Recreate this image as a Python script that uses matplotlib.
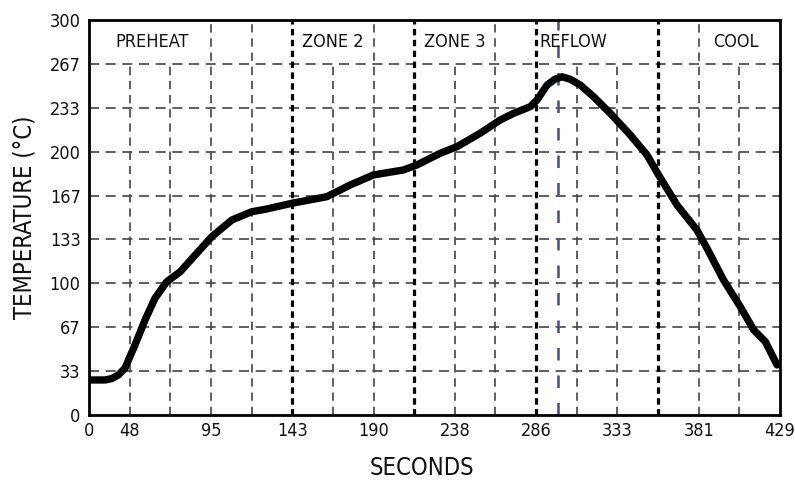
import matplotlib
matplotlib.use('Agg')
import matplotlib.pyplot as plt
from matplotlib import font_manager

# ---- data ----
time_s = [23.8, 33.2, 37.3, 41.0, 44.9, 50.8, 56.7, 62.5, 69.4, 77.3, 86.1, 95.8, 107.6,
          119.3, 127.1, 142.8, 163.3, 177.0, 190.6, 208.2, 216.1, 229.8, 239.6,
          253.2, 265.0, 272.8, 282.6, 286.5, 292.4, 297.0, 301.2, 306.0, 311.9, 319.7, 329.5,
          341.2, 351.0, 357.8, 368.6, 380.3, 386.2, 395.9, 405.7, 413.6, 420.4, 427.3]
temp_c = [26.6, 26.6, 27.7, 30.4, 35.5, 53.2, 72.2, 88.6, 101.2, 108.8, 121.5, 135.4, 148.1,
          154.4, 156.2, 160.8, 165.8, 174.7, 182.3, 186.1, 189.9, 198.8, 203.8,
          214.0, 224.1, 229.1, 234.2, 239.2, 250.6, 255.0, 256.9, 255.0, 250.6, 241.7, 229.1,
          212.7, 197.5, 182.3, 159.5, 140.5, 126.6, 102.5, 82.3, 64.6, 55.7, 38.0]

x_tick_labels = ['0', '48', '95', '143', '190', '238', '286', '333', '381', '429']
y_tick_labels = ['0', '33', '67', '100', '133', '167', '200', '233', '267', '300']

zone_names = ['PREHEAT', 'ZONE 2', 'ZONE 3', 'REFLOW', 'COOL']
zone_label_x = [61, 167, 238, 308, 403]
zone_bounds = [143, 214.5, 286, 357.5]
peak_line_x = 299

X_MAX = 429.0
X_MIN = X_MAX / 18
Y_MAX = 300.0

fp_small = font_manager.FontProperties(family='DejaVu Sans', stretch='condensed', size=13)
fp_big = font_manager.FontProperties(family='DejaVu Sans', stretch='condensed', size=17)

fig = plt.figure(figsize=(7.95, 4.82), dpi=100)
ax = fig.add_axes([89 / 795, 1 - 415 / 482, 691 / 795, 395 / 482])
ax.set_xlim(X_MIN, X_MAX)
ax.set_ylim(0, Y_MAX)

grid_col = '#444444'
for k in range(1, 9):
    ax.axhline(Y_MAX * k / 9, color=grid_col, lw=1.2, dashes=(6, 4), zorder=1)

short_lines = {1, 2, 6, 9, 12, 13, 16}
bold_lines = {5, 8, 11, 14}
for h in range(1, 17):
    xv = X_MAX * (h + 1) / 18
    if h in bold_lines:
        continue
    top = 8 / 9 if h in short_lines else 1.0
    ax.axvline(xv, ymin=0, ymax=top, color=grid_col, lw=1.2, dashes=(5, 3.5), zorder=1)

for xb in zone_bounds:
    ax.axvline(xb, color='black', lw=2.3, dashes=(2.0, 1.4), zorder=2)

ax.axvline(peak_line_x, color='#3d4c9e', lw=1.8, dashes=(5, 6), zorder=2)

ax.plot(time_s, temp_c, color='black', lw=5.3, solid_joinstyle='round',
        solid_capstyle='round', zorder=3)

for name, xl in zip(zone_names, zone_label_x):
    ax.text(xl, 283, name, ha='center', va='center', fontproperties=fp_small,
            color='#111111', zorder=4)

xt = [X_MIN] + [X_MAX * k / 9 for k in range(1, 10)]
ax.set_xticks(xt)
ax.set_xticklabels(x_tick_labels, fontproperties=fp_small)
ax.set_yticks([Y_MAX * k / 9 for k in range(10)])
ax.set_yticklabels(y_tick_labels, fontproperties=fp_small)
ax.tick_params(length=0, pad=5, colors='#111111')
ax.tick_params(axis='y', pad=6)

for s in ax.spines.values():
    s.set_linewidth(2.0)
    s.set_color('black')

fig.text(25 / 795, 1 - 217 / 482, 'TEMPERATURE (°C)', rotation=90, ha='center', va='center',
         fontproperties=fp_big, color='#111111')
fig.text(422 / 795, 1 - 468 / 482, 'SECONDS', ha='center', va='center',
         fontproperties=fp_big, color='#111111')

fig.savefig('out.png', dpi=100)
